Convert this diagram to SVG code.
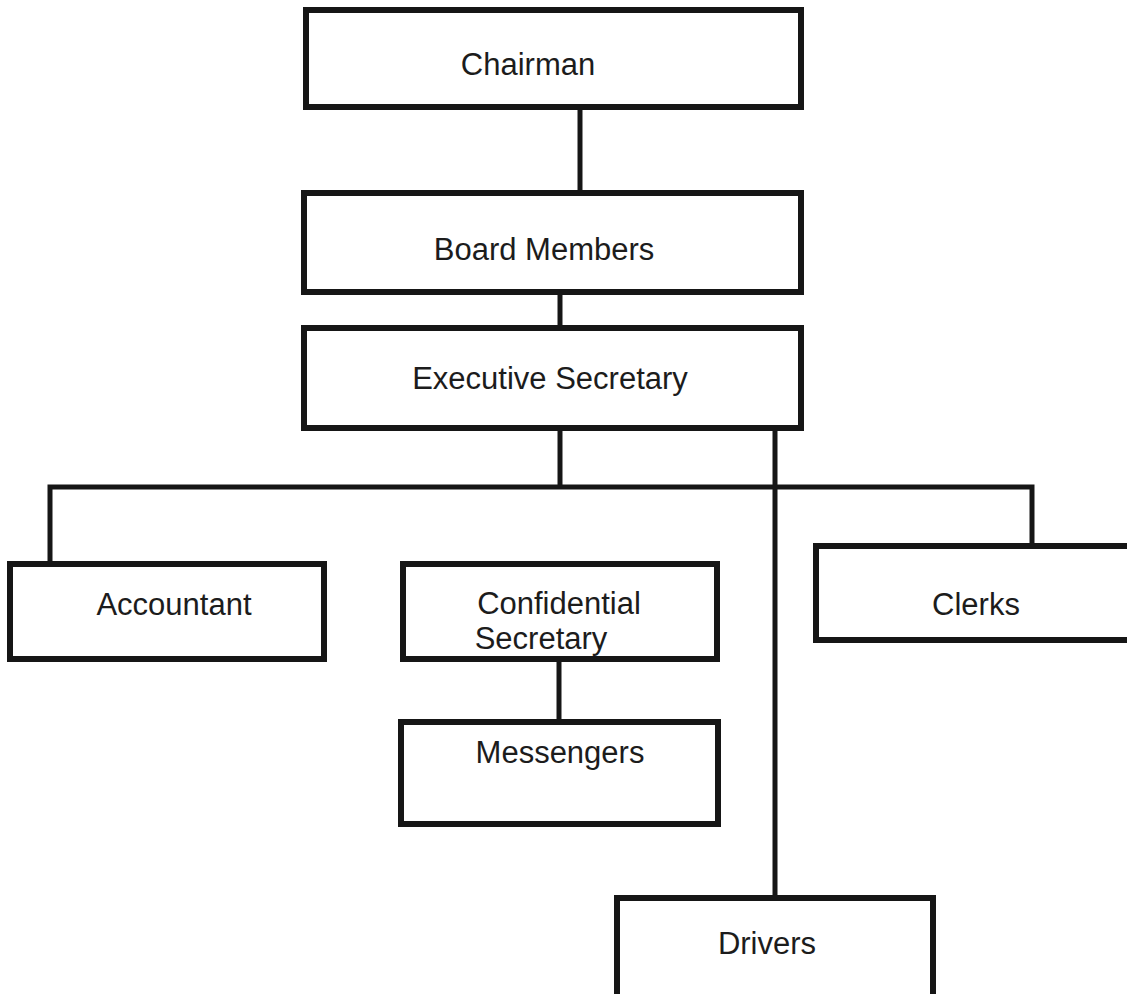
<svg xmlns="http://www.w3.org/2000/svg" width="1127" height="994" viewBox="0 0 1127 994">
<style>
.box{fill:#fff;stroke:#161616;stroke-width:6}
.lbl{font-family:"Liberation Sans",Arial,sans-serif;font-size:31px;fill:#1c1c1c;text-anchor:middle}
.ln{stroke:#161616;stroke-width:5;fill:none}
</style>
<rect width="1127" height="994" fill="#fff"/>
<g id="connectors">
<line class="ln" x1="580" y1="107" x2="580" y2="193"/>
<line class="ln" x1="560" y1="292" x2="560" y2="328"/>
<line class="ln" x1="560" y1="428" x2="560" y2="487"/>
<polyline class="ln" points="50,563 50,487 1032,487 1032,545"/>
<line class="ln" x1="775" y1="428" x2="775" y2="898"/>
<line class="ln" x1="559" y1="658" x2="559" y2="722"/>
</g>
<g id="chairman"><rect class="box" x="306" y="10" width="495" height="97"/><text class="lbl" x="528" y="75">Chairman</text></g>
<g id="board"><rect class="box" x="304" y="193" width="497" height="99"/><text class="lbl" x="544" y="260">Board Members</text></g>
<g id="exec"><rect class="box" x="304" y="328" width="497" height="100"/><text class="lbl" x="550" y="389">Executive Secretary</text></g>
<g id="accountant"><rect class="box" x="10" y="564" width="314" height="95"/><text class="lbl" x="174" y="615">Accountant</text></g>
<g id="confidential"><rect class="box" x="403" y="564" width="314" height="95"/><text class="lbl" x="559" y="614">Confidential</text><text class="lbl" x="541" y="649">Secretary</text></g>
<g id="clerks"><rect class="box" x="816" y="546" width="330" height="94"/><text class="lbl" x="976" y="615">Clerks</text></g>
<g id="messengers"><rect class="box" x="401" y="722" width="317" height="102"/><text class="lbl" x="560" y="763">Messengers</text></g>
<g id="drivers"><rect class="box" x="617" y="898" width="316" height="120"/><text class="lbl" x="767" y="954">Drivers</text></g>
</svg>
